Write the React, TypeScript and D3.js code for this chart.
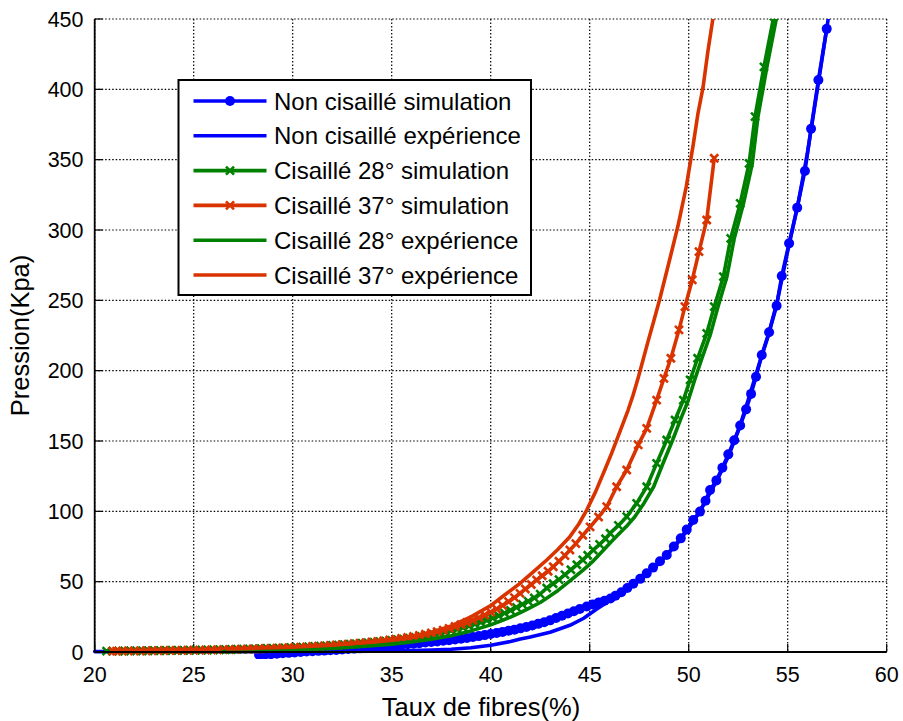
import React from 'react';
import * as d3 from 'd3';

const X_TICKS = [20, 25, 30, 35, 40, 45, 50, 55, 60];
const Y_TICKS = [0, 50, 100, 150, 200, 250, 300, 350, 400, 450];

const LABELS = [
  'Non cisaillé simulation',
  'Non cisaillé expérience',
  'Cisaillé 28° simulation',
  'Cisaillé 37° simulation',
  'Cisaillé 28° expérience',
  'Cisaillé 37° expérience',
];

const B_SIM = [
  [28.3,-2.0],[28.6,-1.8],[28.9,-1.5],[29.2,-1.2],[29.5,-0.9],[29.8,-0.6],[30.1,-0.3],[30.4,0.0],[30.7,0.3],[31.0,0.5],
  [31.3,0.8],[31.6,1.0],[31.9,1.3],[32.2,1.5],[32.5,1.8],[32.8,2.1],[33.1,2.4],[33.4,2.7],[33.7,3.0],[34.0,3.3],
  [34.3,3.6],[34.6,4.0],[34.9,4.3],[35.2,4.7],[35.5,5.1],[35.8,5.5],[36.1,5.9],[36.4,6.3],[36.7,6.7],[37.0,7.1],
  [37.3,7.5],[37.6,8.0],[37.9,8.4],[38.2,8.9],[38.5,9.4],[38.8,10.0],[39.1,10.6],[39.4,11.3],[39.7,12.0],[40.0,12.8],
  [40.3,13.5],[40.6,14.3],[40.9,15.1],[41.2,15.9],[41.5,16.8],[41.8,17.8],[42.1,18.9],[42.4,20.0],[42.7,21.2],[43.0,22.5],
  [43.3,24.2],[43.6,25.8],[43.9,27.4],[44.2,29.0],[44.5,30.6],[44.85,32.3],[45.15,33.8],[45.45,35.2],[45.75,36.4],[46.05,38.0],
  [46.3,40.0],[46.6,42.5],[46.9,45.5],[47.2,48.5],[47.55,52.0],[47.88,55.9],[48.2,60.0],[48.55,64.5],[48.89,69.0],[49.25,75.0],
  [49.6,80.8],[49.9,87.0],[50.23,93.8],[50.57,99.8],[50.85,107.5],[51.08,115.2],[51.4,122.0],[51.7,131.0],[52.0,140.5],[52.3,150.5],
  [52.6,161.0],[52.9,172.5],[53.15,183.5],[53.4,195.7],[53.69,211.1],[54.06,227.3],[54.44,246.2],[54.7,267.3],[55.07,290.5],[55.48,315.9],
  [55.87,342.0],[56.18,372.0],[56.55,406.6],[56.97,443.0],
];

const B_EXP = [
  [20,0.3],[22,0.3],[24,0.3],[26,0.3],[28,0.3],[30,0.3],[32,0.4],[34,0.6],[35.4,0.8],[37,1.3],
  [38,1.9],[39,3.0],[40,4.8],[41,7.5],[41.5,9.2],[42,10.6],[43,14],[44,19],[44.7,24],[45.3,30],
  [46,36.5],[46.5,41.2],[47,46.3],[47.5,51.3],[48,57],[48.5,63],[49,70.5],[49.5,78.5],[50,88],[50.5,98.5],
  [51,111],[51.5,124],[52,139],[52.5,157],[53,179],[53.5,202],[54,224],[54.5,251],[55,285],[55.5,317],
  [56,355],[56.5,400],[57.1,455],
];

const G_SIM = [
  [20.6,0.6],[20.9,0.62],[21.2,0.66],[21.5,0.7],[21.8,0.75],[22.1,0.8],[22.4,0.85],[22.7,0.9],[23.0,0.95],[23.3,1.0],
  [23.6,1.05],[23.9,1.1],[24.2,1.15],[24.5,1.2],[24.8,1.25],[25.1,1.3],[25.4,1.35],[25.7,1.4],[26.0,1.5],[26.3,1.6],
  [26.6,1.7],[26.9,1.8],[27.2,1.9],[27.5,2.0],[27.8,2.1],[28.1,2.2],[28.4,2.3],[28.7,2.5],[29.0,2.6],[29.3,2.8],
  [29.6,2.9],[29.9,3.1],[30.2,3.3],[30.5,3.5],[30.8,3.7],[31.1,3.9],[31.4,4.1],[31.7,4.4],[32.0,4.7],[32.3,4.9],
  [32.6,5.2],[32.9,5.5],[33.2,5.8],[33.5,6.2],[33.8,6.5],[34.1,6.9],[34.4,7.3],[34.7,7.7],[35.0,8.2],[35.3,8.7],
  [35.6,9.2],[35.9,9.8],[36.2,10.4],[36.5,11.0],[36.8,11.7],[37.1,12.5],[37.4,13.3],[37.7,14.2],[38.0,15.2],[38.3,16.2],
  [38.6,17.3],[38.9,18.5],[39.2,19.8],[39.5,21.1],[39.8,22.6],[40.1,24.1],[40.4,25.8],[40.7,27.6],[41.0,29.6],[41.3,31.7],
  [41.6,33.8],[41.9,36.0],[42.2,38.5],[42.5,41.2],[42.83,45.5],[43.15,48.5],[43.45,51.5],[43.75,55.0],[44.05,58.5],[44.35,62.0],
  [44.65,65.5],[44.9,68.8],[45.18,72.5],[45.5,76.5],[45.8,80.5],[46.03,84.4],[46.45,90.0],[46.87,96.2],[47.37,105.7],[47.88,117.5],
  [48.38,134.1],[48.89,150.7],[49.31,164.9],[49.73,179.1],[50.07,193.4],[50.45,208.8],[50.91,226.5],[51.29,245.5],[51.75,266.8],[52.12,294.0],
  [52.6,318.9],[53.05,347.4],[53.35,380.6],[53.8,416.0],[54.3,452.0],
];

const R_SIM = [
  [20.9,0.6],[21.1,0.65],[21.4,0.7],[21.7,0.75],[22.0,0.8],[22.3,0.85],[22.6,0.9],[22.9,0.95],[23.2,1.0],[23.5,1.05],
  [23.8,1.1],[24.1,1.15],[24.4,1.2],[24.7,1.25],[25.0,1.3],[25.3,1.35],[25.6,1.4],[25.9,1.5],[26.2,1.6],[26.5,1.7],
  [26.8,1.8],[27.1,1.9],[27.4,2.0],[27.7,2.1],[28.0,2.2],[28.3,2.3],[28.6,2.5],[28.9,2.6],[29.2,2.8],[29.5,2.9],
  [29.8,3.1],[30.1,3.3],[30.4,3.5],[30.7,3.7],[31.0,3.9],[31.3,4.2],[31.6,4.4],[31.9,4.7],[32.2,5.0],[32.5,5.3],
  [32.8,5.6],[33.1,5.9],[33.4,6.3],[33.7,6.7],[34.0,7.1],[34.3,7.5],[34.6,8.0],[34.9,8.5],[35.2,9.1],[35.5,9.7],
  [35.8,10.3],[36.1,11.0],[36.4,11.8],[36.7,12.6],[37.0,13.5],[37.3,14.5],[37.6,15.6],[37.9,16.8],[38.2,18.1],[38.5,19.5],
  [38.8,21.0],[39.1,22.6],[39.4,24.4],[39.7,26.3],[40.0,28.3],[40.3,30.6],[40.6,33.1],[40.9,35.8],[41.2,38.7],[41.48,41.7],
  [41.75,44.8],[42.05,48.0],[42.32,51.2],[42.6,54.2],[42.9,57.4],[43.16,60.6],[43.45,64.5],[43.75,68.5],[44.0,72.5],[44.3,77.0],
  [44.65,83.0],[45.02,89.0],[45.45,96.0],[45.86,103.3],[46.36,117.5],[46.87,129.4],[47.45,147.2],[47.88,159.0],[48.38,179.1],[48.75,194.5],
  [49.1,208.8],[49.51,229.0],[49.81,245.5],[50.18,264.5],[50.52,284.6],[50.91,307.1],[51.29,351.0],
];

const G_EXP = [
  [26.5,0.3],[28,0.7],[30,1.4],[32,2.6],[34,4.4],[35,5.6],[36,7.1],[37,9.0],[38,11.6],[39,15],
  [40,19.3],[40.5,22],[41,24.8],[41.5,28],[42,31.5],[42.5,35.2],[42.9,39],[43.4,43.8],[44,50.5],[44.65,58],
  [45.2,65],[45.7,72.5],[46.1,78.5],[46.48,84],[46.9,90],[47.27,96],[47.75,106],[48.23,117.5],[48.7,134],[49.19,150.7],
  [49.58,165],[49.98,179],[50.3,193.4],[50.67,208.8],[51.11,226.5],[51.48,245.5],[51.93,266.8],[52.3,294],[52.77,319],[53.21,347],
  [53.5,380.6],[53.95,416],[54.45,452],
];

const R_EXP = [
  [26.7,2.2],[28,2.6],[29,3.0],[30,3.5],[31,4.1],[32,4.9],[33,5.9],[34,7.2],[35,8.8],[36,11],
  [37,14],[38,18.5],[39,25],[40,33],[40.7,40.5],[41.48,48.8],[42.15,57],[42.83,65.4],[43.4,73],[44.0,82],
  [44.45,91],[44.85,100.9],[45.3,114],[45.76,129.4],[46.1,141],[46.43,153.1],[46.7,163],[46.94,172],[47.2,183],[47.45,195],
  [47.7,208],[47.95,221],[48.25,236],[48.54,251],[49.04,279],[49.46,303],[49.88,331],[50.22,360],[50.47,383],[50.72,401],
  [50.97,427],[51.22,450],[51.3,458],
];

const BLUE = '#0000ff';
const GREEN = '#008000';
const RED = '#d93300';

const SERIES = [
  { data: B_SIM, color: BLUE, marker: 'o' },
  { data: B_EXP, color: BLUE, marker: null },
  { data: G_SIM, color: GREEN, marker: 'x' },
  { data: R_SIM, color: RED, marker: 'x' },
  { data: G_EXP, color: GREEN, marker: null },
  { data: R_EXP, color: RED, marker: null },
];

const FONT = '"Liberation Sans", Arial, Helvetica, sans-serif';
const X_PATH = 'M-4,-4L4,4M-4,4L4,-4';

function Marker({ type, color, cx, cy }: { type: string | null; color: string; cx: number; cy: number }) {
  if (type === 'o') return <circle cx={cx} cy={cy} r={5} fill={color} />;
  if (type === 'x') return <path d={X_PATH} transform={`translate(${cx},${cy})`} stroke={color} strokeWidth={2.6} fill="none" />;
  return null;
}

export default function App() {
  const W = 903, H = 721;
  const L = 94.7, R = 886.7, T = 19, B = 652;
  const x = d3.scaleLinear().domain([20, 60]).range([L, R]);
  const y = d3.scaleLinear().domain([0, 450]).range([B, T]);
  const line = d3.line<number[]>().x(d => x(d[0])).y(d => y(d[1]));

  const legX = 178.5, legY = 80, legW = 352.5, legH = 215;
  const rowY = (i: number) => 101 + i * 34.8;

  return (
    <svg width={W} height={H} style={{ position: 'absolute', left: 0, top: 0, background: '#fff' }} fontFamily={FONT}>
      <defs>
        <clipPath id="plot">
          <rect x={L - 2} y={T} width={R - L + 4} height={B - T + 7} />
        </clipPath>
      </defs>
      <rect x={0} y={0} width={W} height={H} fill="#fff" />
      {X_TICKS.map(t => (
        <line key={'gx' + t} x1={x(t)} x2={x(t)} y1={T} y2={B} stroke="#000" strokeWidth={1.2} strokeDasharray="1.5,2" />
      ))}
      {Y_TICKS.map(t => (
        <line key={'gy' + t} x1={L} x2={R} y1={y(t)} y2={y(t)} stroke="#000" strokeWidth={1.2} strokeDasharray="1.5,2" />
      ))}
      {X_TICKS.map(t => (
        <line key={'tx' + t} x1={x(t)} x2={x(t)} y1={B} y2={B - 8} stroke="#000" strokeWidth={1.2} />
      ))}
      {Y_TICKS.map(t => (
        <line key={'ty' + t} x1={L} x2={L + 8} y1={y(t)} y2={y(t)} stroke="#000" strokeWidth={1.2} />
      ))}
      <g clipPath="url(#plot)">
        {SERIES.map((s, i) => (
          <g key={'s' + i}>
            <path d={line(s.data as number[][]) || ''} fill="none" stroke={s.color} strokeWidth={3.6} strokeLinejoin="round" strokeLinecap="round" />
            {s.marker && s.data.map((d, j) => (
              <Marker key={j} type={s.marker} color={s.color} cx={x(d[0])} cy={y(d[1])} />
            ))}
          </g>
        ))}
      </g>
      <line x1={L} x2={L} y1={T} y2={B} stroke="#000" strokeWidth={1.8} />
      <line x1={L} x2={R} y1={B} y2={B} stroke="#000" strokeWidth={1.8} />
      {X_TICKS.map(t => (
        <text key={'lx' + t} x={x(t)} y={681.5} textAnchor="middle" fontSize={21.5} fill="#000">{t}</text>
      ))}
      {Y_TICKS.map(t => (
        <text key={'ly' + t} x={83.5} y={y(t)} dy="0.36em" textAnchor="end" fontSize={21.5} fill="#000">{t}</text>
      ))}
      <text x={481} y={716} textAnchor="middle" fontSize={25.5} fill="#000">Taux de fibres(%)</text>
      <text transform={`translate(29,${(T + B) / 2}) rotate(-90)`} textAnchor="middle" fontSize={25.5} fill="#000">Pression(Kpa)</text>
      <rect x={legX} y={legY} width={legW} height={legH} fill="#fff" stroke="#000" strokeWidth={2} />
      {SERIES.map((s, i) => (
        <g key={'lg' + i}>
          <line x1={193.5} x2={266.5} y1={rowY(i)} y2={rowY(i)} stroke={s.color} strokeWidth={3.6} />
          <Marker type={s.marker} color={s.color} cx={230} cy={rowY(i)} />
          <text x={274} y={rowY(i)} dy="0.36em" fontSize={24} fill="#000">{LABELS[i]}</text>
        </g>
      ))}
    </svg>
  );
}
